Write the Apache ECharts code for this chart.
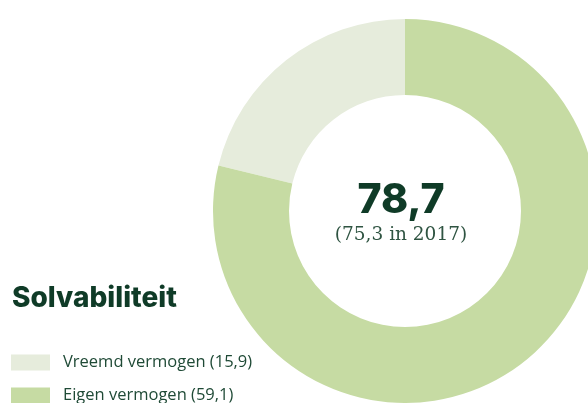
<!DOCTYPE html>
<html><head><meta charset="utf-8">
<script src="https://cdn.jsdelivr.net/npm/echarts@6/dist/echarts.min.js"></script>
<style>html,body{margin:0;padding:0;background:#fff}#c{width:588px;height:403px}</style>
</head><body><div id="c"></div>
<script>
const categories = ["Vreemd vermogen", "Eigen vermogen"];
const values = [15.9, 59.1];
const valueLabels = ["15,9", "59,1"];
const title = "Solvabiliteit";
const centerValue = "78,7";
const centerSub = "(75,3 in 2017)";
const colors = ["#e6ecdc", "#c6dba3"];

const legendTops = [354, 387];
const legendFor = (i) => ({
  orient: 'vertical', left: 11, top: legendTops[i],
  itemWidth: 39, itemHeight: 16, itemGap: 17,
  icon: 'rect', padding: 0,
  data: [categories[i]],
  formatter: function (name) { return name + ' (' + valueLabels[categories.indexOf(name)] + ')'; },
  textStyle: {fontFamily: 'Open Sans', fontSize: 16.5, color: '#1f4a36', padding: [3, 0, 0, 8]}
});

const chart = echarts.init(document.getElementById('c'), null, {renderer: 'canvas'});
chart.setOption({
  animation: false,
  title: {
    text: title, left: 7, top: 280,
    textStyle: {fontFamily: 'Inter', fontWeight: 800, fontSize: 28, color: '#0f3b27'}
  },
  legend: [legendFor(0), legendFor(1)],
  series: [{
    type: 'pie',
    center: [405, 211],
    radius: [116, 192],
    startAngle: 90,
    clockwise: false,
    label: {show: false},
    labelLine: {show: false},
    silent: true,
    data: categories.map((c, i) => ({name: c, value: values[i], itemStyle: {color: colors[i]}}))
  }, {
    type: 'pie', center: [401, 213], radius: [0, 1], silent: true,
    itemStyle: {color: 'transparent'},
    label: {show: true, position: 'center', formatter: '{a|' + centerValue + '}\n{b|' + centerSub + '}',
      rich: {
        a: {fontFamily: 'Inter', fontWeight: 800, fontSize: 41, color: '#0f3b27', lineHeight: 44},
        b: {fontFamily: 'DejaVu Serif', fontSize: 18.5, color: '#2f5442', lineHeight: 24}
      }},
    labelLine: {show: false},
    data: [{name: 'c', value: 1}]
  }]
});
</script></body></html>
